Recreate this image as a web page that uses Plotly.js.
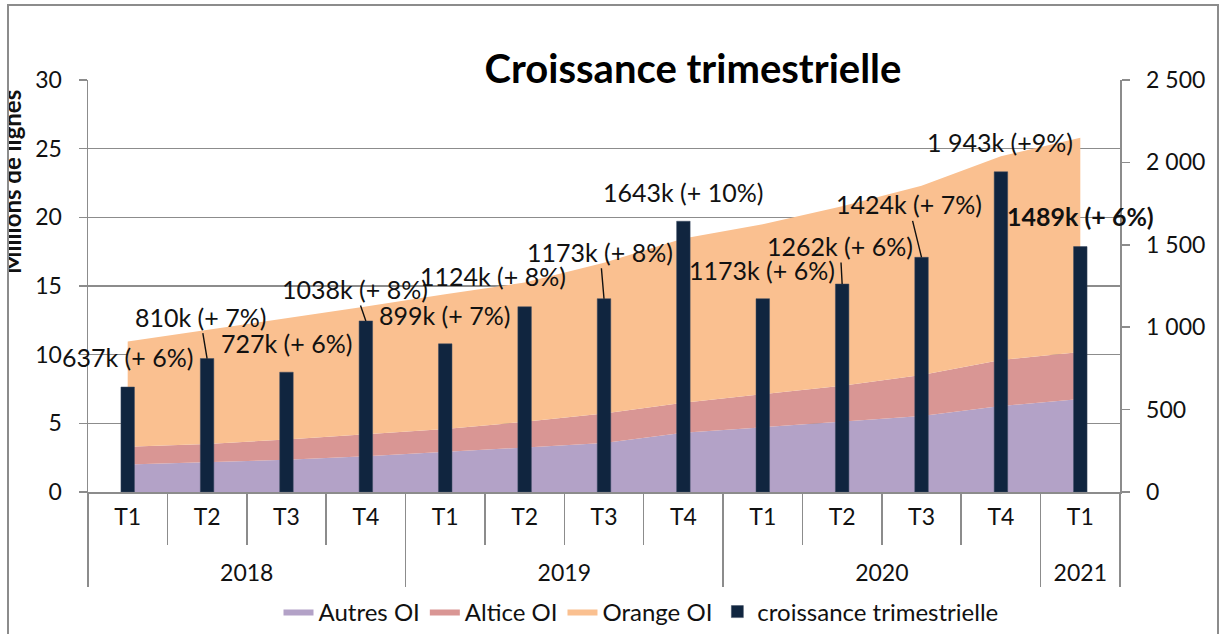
<!DOCTYPE html>
<html><head><meta charset="utf-8">
<script src="https://cdn.plot.ly/plotly-3.0.1.min.js"></script>
<style>
html,body{margin:0;padding:0;background:#fff;}
#chart{position:absolute;left:0;top:0;width:1221px;height:634px;}
#cover{position:absolute;left:0;top:0;width:7px;height:634px;background:#fff;}
#frame{position:absolute;left:7px;top:4px;width:1208px;height:700px;border:2px solid #8c8c8c;pointer-events:none;}
</style></head><body>
<div id="chart"></div><div id="cover"></div><div id="frame"></div>
<script>
// ---- data ----
const years = ['2018','2018','2018','2018','2019','2019','2019','2019','2020','2020','2020','2020','2021'];
const quarters = ['T1','T2','T3','T4','T1','T2','T3','T4','T1','T2','T3','T4','T1'];
const autresOI = [2.0, 2.15, 2.34, 2.6, 2.92, 3.29, 3.56, 4.31, 4.7, 5.09, 5.53, 6.26, 6.77];
const alticeOI = [1.29, 1.35, 1.48, 1.59, 1.66, 1.82, 2.16, 2.19, 2.41, 2.65, 2.99, 3.35, 3.43];
const orangeOI = [7.66, 8.3, 8.78, 9.31, 9.82, 10.14, 10.98, 11.95, 12.39, 13.06, 13.78, 14.84, 15.6];
const croissance = [637, 810, 727, 1038, 899, 1124, 1173, 1643, 1173, 1262, 1424, 1943, 1489];
const croissanceLabels = ['637k (+ 6%)','810k (+ 7%)','727k (+ 6%)','1038k (+ 8%)','899k (+ 7%)','1124k (+ 8%)','1173k (+ 8%)','1643k (+ 10%)','1173k (+ 6%)','1262k (+ 6%)','1424k (+ 7%)','1 943k (+9%)','1489k (+ 6%)'];

// ---- label placement (pixel offsets from bar top, leader line flag) ----
const labelPlacement = [
  [0,-30,false],[-7,-42,true],[0,-29,false],[-11,-32,true],[-1,-29,false],[-32,-31,false],
  [-4,-47,true],[0,-29,false],[-1,-29,false],[-2,-38,true],[-13,-53,true],[-1,-30,false],[0,-31,false]
];

const FONT = 'Lato, "Open Sans", sans-serif';
const GRID = '#8c8c8c';
// leading line break pushes the year row below the quarter row
const x = [years.map(y => '<br>' + y), quarters];

const traces = [
  {type:'scatter', mode:'lines', name:'Autres OI', x:x, y:autresOI, stackgroup:'a',
   line:{width:0, color:'#b3a2c7'}, fillcolor:'#b3a2c7', hoverinfo:'skip'},
  {type:'scatter', mode:'lines', name:'Altice OI', x:x, y:alticeOI, stackgroup:'a',
   line:{width:0, color:'#d99694'}, fillcolor:'#d99694', hoverinfo:'skip'},
  {type:'scatter', mode:'lines', name:'Orange OI', x:x, y:orangeOI, stackgroup:'a',
   line:{width:0, color:'#fac090'}, fillcolor:'#fac090', hoverinfo:'skip'},
  {type:'bar', name:'croissance trimestrielle', x:x, y:croissance, yaxis:'y2', width:0.17,
   marker:{color:'#10253f', line:{width:0.5, color:'#3a4a60'}}, hoverinfo:'skip'}
];

const annotations = croissance.map((v,i)=>{
  const [dx,dy,leader] = labelPlacement[i];
  const bold = i === croissance.length-1;
  const a = {xref:'x', yref:'y2', x:i, y:v, text:croissanceLabels[i], xanchor:'center', yanchor:'middle',
    font:{family:FONT, size:25, color:'#111', weight: bold?700:400}};
  if(leader){
    Object.assign(a,{showarrow:true, ax:dx, ay:dy, arrowhead:0, arrowwidth:1.4, arrowcolor:'#111', standoff:0});
  } else {
    Object.assign(a,{showarrow:false, xshift:dx, yshift:-dy});
  }
  return a;
});
annotations.push({xref:'paper', yref:'paper', x:(11-88)/1032, y:(492-182)/412, xanchor:'center', yanchor:'middle',
  textangle:-90, text:'Millions de lignes', showarrow:false, font:{family:FONT, size:24, color:'#111', weight:700}});

const layout = {
  width:1221, height:634,
  margin:{l:88, r:101, t:80, b:142, autoexpand:false},
  paper_bgcolor:'#fff', plot_bgcolor:'#fff',
  font:{family:FONT, color:'#111', size:23},
  separators:', ',
  title:{text:'Croissance trimestrielle', xref:'container', yref:'container', x:693/1221, xanchor:'center',
         y:1-69/634, yanchor:'middle', font:{family:FONT, size:40, weight:700, color:'#000'}},
  showlegend:true,
  legend:{orientation:'h', xref:'container', x:641/1221, xanchor:'center', yref:'container', y:(634-612)/634, yanchor:'middle',
          traceorder:'normal', font:{family:FONT, size:24, color:'#111'}, itemwidth:30},
  xaxis:{type:'multicategory', range:[-0.5,12.5], autorange:false, automargin:false, showline:true, linecolor:GRID, linewidth:1.5,
         ticks:'outside', tickson:'boundaries', ticklen:51, tickcolor:GRID, tickwidth:1.5,
         showdividers:true, dividercolor:GRID, dividerwidth:1.5,
         showgrid:false, ticklabelstandoff:4, tickfont:{size:23}},
  yaxis:{range:[0,30], dtick:5, showline:true, linecolor:GRID, linewidth:1.5, automargin:false,
         ticks:'outside', ticklen:8, tickcolor:GRID, tickwidth:1.5,
         showgrid:true, gridcolor:GRID, gridwidth:1.5, zeroline:false, ticklabelstandoff:12, tickfont:{size:23}},
  yaxis2:{range:[0,2500], dtick:500, overlaying:'y', side:'right', showline:true, linecolor:GRID, linewidth:1.5, automargin:false,
          ticks:'outside', ticklen:8, tickcolor:GRID, tickwidth:1.5, tickformat:',d',
          showgrid:false, zeroline:false, ticklabelstandoff:12, tickfont:{size:23}},
  bargap:0,
  annotations:annotations
};

Plotly.newPlot('chart', traces, layout, {staticPlot:true, displayModeBar:false});
</script>
</body></html>
